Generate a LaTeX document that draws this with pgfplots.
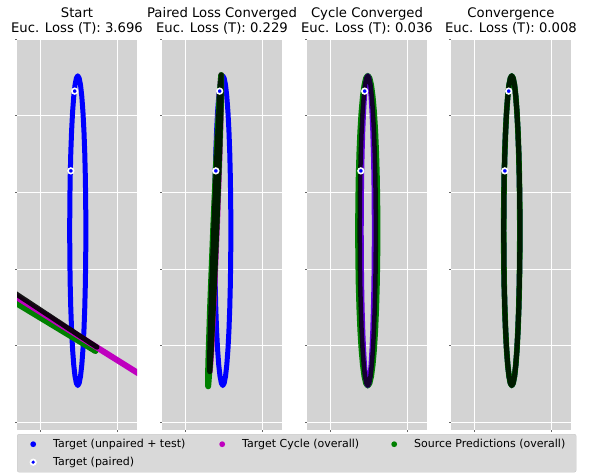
\documentclass[border=0pt]{standalone}
\usepackage{pgfplots}
\pgfplotsset{compat=1.18}
\usepackage{pgfplotstable}
\usepackage{fontspec}
\setmainfont{DejaVu Sans}
\definecolor{panelbg}{HTML}{D3D3D3}
\definecolor{legbg}{HTML}{D9D9D9}
\definecolor{mplblue}{HTML}{0000FF}
\definecolor{mplmag}{HTML}{BF00BF}
\definecolor{mplgreen}{HTML}{008000}
\definecolor{cycmix}{HTML}{6000E0}

% Target ellipse (a = 0.105)
\pgfplotstableread{
x y
0.595 2.5
0.5934 2.8507
0.5887 3.1908
0.5809 3.51
0.5704 3.7985
0.5575 4.0473
0.5425 4.2493
0.5259 4.3982
0.5082 4.4893
0.49 4.52
0.4718 4.4893
0.4541 4.3982
0.4375 4.2493
0.4225 4.0473
0.4096 3.7985
0.3991 3.51
0.3913 3.1908
0.3866 2.8507
0.385 2.5
0.3866 2.1493
0.3913 1.8092
0.3991 1.49
0.4096 1.2015
0.4225 0.9527
0.4375 0.7507
0.4541 0.6018
0.4718 0.5107
0.49 0.48
0.5082 0.5107
0.5259 0.6018
0.5425 0.7507
0.5575 0.9527
0.5704 1.2015
0.5809 1.49
0.5887 1.8092
0.5934 2.1493
0.595 2.5
}\ellA
% narrower ellipse (a = 0.085)
\pgfplotstableread{
x y
0.575 2.5
0.5737 2.8507
0.5699 3.1908
0.5636 3.51
0.5551 3.7985
0.5446 4.0473
0.5325 4.2493
0.5191 4.3982
0.5048 4.4893
0.49 4.52
0.4752 4.4893
0.4609 4.3982
0.4475 4.2493
0.4354 4.0473
0.4249 3.7985
0.4164 3.51
0.4101 3.1908
0.4063 2.8507
0.405 2.5
0.4063 2.1493
0.4101 1.8092
0.4164 1.49
0.4249 1.2015
0.4354 0.9527
0.4475 0.7507
0.4609 0.6018
0.4752 0.5107
0.49 0.48
0.5048 0.5107
0.5191 0.6018
0.5325 0.7507
0.5446 0.9527
0.5551 1.2015
0.5636 1.49
0.5699 1.8092
0.5737 2.1493
0.575 2.5
}\ellB
% wider ellipse (a = 0.125)
\pgfplotstableread{
x y
0.615 2.5
0.6131 2.8507
0.6075 3.1908
0.5983 3.51
0.5858 3.7985
0.5704 4.0473
0.5525 4.2493
0.5328 4.3982
0.5117 4.4893
0.49 4.52
0.4683 4.4893
0.4473 4.3982
0.4275 4.2493
0.4097 4.0473
0.3943 3.7985
0.3817 3.51
0.3725 3.1908
0.3669 2.8507
0.365 2.5
0.3669 2.1493
0.3725 1.8092
0.3817 1.49
0.3943 1.2015
0.4097 0.9527
0.4275 0.7507
0.4473 0.6018
0.4683 0.5107
0.49 0.48
0.5117 0.5107
0.5328 0.6018
0.5525 0.7507
0.5704 0.9527
0.5858 1.2015
0.5983 1.49
0.6075 1.8092
0.6131 2.1493
0.615 2.5
}\ellC
% panel 2 source predictions (thin)
\pgfplotstableread{
x y
0.405 2.5
0.4448 3.515
0.4686 4.258
0.47 4.53
0.4486 4.258
0.4102 3.515
0.365 2.5
0.3252 1.485
0.3014 0.742
0.30 0.47
0.3214 0.742
0.3598 1.485
0.405 2.5
}\degG
% panel 2 black (thin)
\pgfplotstableread{
x y
0.415 2.595
0.4498 3.5625
0.47 4.2707
0.47 4.53
0.45 4.2707
0.4152 3.5625
0.375 2.595
0.3402 1.6275
0.32 0.9193
0.32 0.66
0.34 0.9193
0.3748 1.6275
0.415 2.595
}\degK

\pgfplotsset{
  panel/.style={
    scale only axis, width=120pt, height=391pt,
    xmin=-0.3, xmax=1.26, ymin=-0.1, ymax=5.0,
    anchor=north west,
    axis background/.style={fill=panelbg},
    axis line style={draw=none},
    xtick={0,1}, ytick={0,1,2,3,4,5},
    xticklabels={}, yticklabels={},
    grid=major, grid style={white, line width=0.9pt},
    tick align=outside, major tick length=2pt,
    tick style={black!60, line width=0.6pt},
    xtick pos=left, ytick pos=left,
    title style={align=center, font=\fontsize{13.2}{15}\selectfont,
      inner sep=0pt, at={(0.5,1)}, anchor=south, yshift=-1pt},
  },
  tgt/.style={mplblue, line width=5pt, line cap=round, line join=round, forget plot},
  cyc/.style={mplmag, line width=6pt, line cap=round, line join=round, forget plot},
  src/.style={mplgreen, line width=6pt, line cap=round, line join=round, forget plot},
  blk/.style={black, opacity=0.78, line width=5pt, line cap=round, line join=round, forget plot},
  paired/.style={forget plot, only marks, mark=*, mark size=2.8pt,
    mark options={fill=mplblue, draw=white, line width=1.6pt}},
}

\begin{document}
\begin{tikzpicture}
\path[use as bounding box] (0pt,0pt) rectangle (590pt,-475pt);

% Panel 1
\begin{axis}[panel, at={(17pt,-39pt)},
  title={Start\\Euc. Loss (T): 3.696},
  legend columns=3,
  legend cell align=left,
  legend style={at={(0,0)}, anchor=north west, yshift=-4pt,
    fill=legbg, draw=legbg!92!black, rounded corners=2pt, inner sep=1pt,
    font=\fontsize{11}{13}\selectfont, nodes={inner sep=0pt},
    /tikz/every even column/.append style={column sep=0pt}, row sep=0pt},
]
\addlegendimage{legend image code/.code={\path[draw=none,fill=none] (-15pt,-9pt) rectangle (20pt,9pt); \fill[mplblue,draw=none] (0pt,0pt) circle (2.9pt);}}
\addlegendentry{\makebox[154pt][l]{Target (unpaired + test)}}
\addlegendimage{legend image code/.code={\path[draw=none,fill=none] (-15pt,-9pt) rectangle (20pt,9pt); \fill[mplmag,draw=none] (0pt,0pt) circle (2.9pt);}}
\addlegendentry{\makebox[137pt][l]{Target Cycle (overall)}}
\addlegendimage{legend image code/.code={\path[draw=none,fill=none] (-15pt,-9pt) rectangle (20pt,9pt); \fill[mplgreen,draw=none] (0pt,0pt) circle (2.9pt);}}
\addlegendentry{\makebox[161pt][l]{Source Predictions (overall)}}
\addlegendimage{legend image code/.code={\path[draw=none,fill=none] (-15pt,-9pt) rectangle (20pt,9pt); \fill[white,draw=none] (0pt,0pt) circle (3.6pt); \fill[mplblue,draw=none] (0pt,0pt) circle (1.8pt);}}
\addlegendentry{\makebox[154pt][l]{Target (paired)}}

\addplot[tgt] table {\ellA};
\addplot[src] coordinates {(-0.5,1.67) (0.72,0.93)};
\addplot[cyc] coordinates {(-0.5,1.756) (1.4,0.562)};
\addplot[blk, opacity=0.9] coordinates {(-0.5,1.80) (0.74,0.98)};
\addplot[paired] coordinates {(0.45,4.32) (0.40,3.28)};
\end{axis}

% Panel 2
\begin{axis}[panel, at={(162pt,-39pt)},
  title={Paired Loss Converged\\Euc. Loss (T): 0.229}]
\addplot[tgt] table {\ellA};
\addplot[cyc] table {\degK};
\addplot[src] table {\degG};
\addplot[blk] table {\degK};
\addplot[paired] coordinates {(0.45,4.32) (0.40,3.28)};
\end{axis}

% Panel 3
\begin{axis}[panel, at={(307pt,-39pt)},
  title={Cycle Converged\\Euc. Loss (T): 0.036}]
\addplot[tgt] table {\ellA};
\addplot[src] table {\ellC};
\addplot[cyc, draw=cycmix, line width=5pt] table {\ellB};
\addplot[blk, line width=4.5pt] table {\ellA};
\addplot[paired] coordinates {(0.45,4.32) (0.40,3.28)};
\end{axis}

% Panel 4
\begin{axis}[panel, at={(451pt,-39pt)},
  title={Convergence\\Euc. Loss (T): 0.008}]
\addplot[tgt] table {\ellA};
\addplot[cyc, draw=cycmix, line width=5pt] table {\ellA};
\addplot[src, line width=5.6pt] table {\ellA};
\addplot[blk] table {\ellA};
\addplot[paired] coordinates {(0.45,4.32) (0.40,3.28)};
\end{axis}
\end{tikzpicture}
\end{document}
